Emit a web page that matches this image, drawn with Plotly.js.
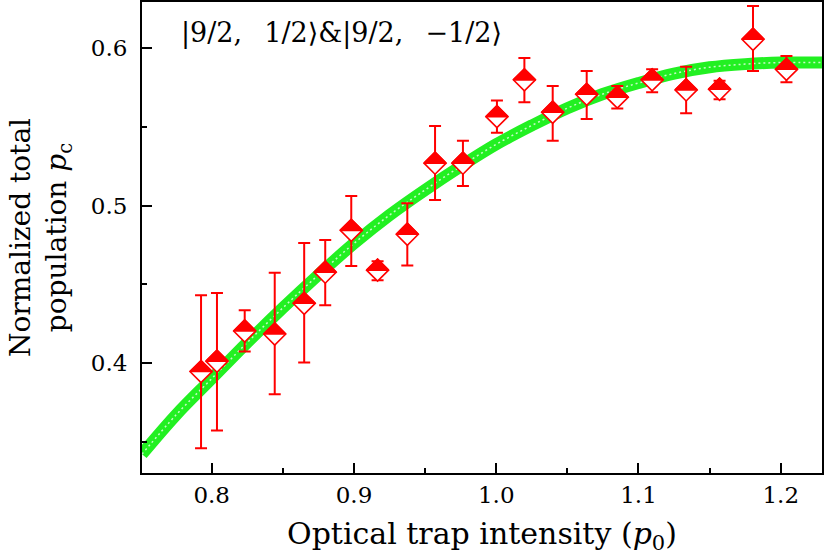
<!DOCTYPE html>
<html>
<head>
<meta charset="utf-8">
<script src="https://cdn.plot.ly/plotly-3.0.1.min.js"></script>
<style>html,body{margin:0;padding:0;background:#fff;}#chart{width:826px;height:555px;}</style>
</head>
<body>
<div id="chart"></div>
<script>
// Measured data points (optical trap intensity vs normalized population)
const intensity = [0.7925, 0.8037, 0.8232, 0.8443, 0.865, 0.8798, 0.8981, 0.9166, 0.9375, 0.957, 0.9766,
                   1.0005, 1.0198, 1.0397, 1.0636, 1.0851, 1.1096, 1.1335, 1.157, 1.1805, 1.204];
const population = [0.3945, 0.4011, 0.4203, 0.4184, 0.4379, 0.4577, 0.4843, 0.4590, 0.4818, 0.527, 0.527,
                    0.5566, 0.580, 0.5594, 0.5708, 0.569, 0.580, 0.5736, 0.574, 0.6058, 0.5867];
const errPlus = [0.0485, 0.0434, 0.0132, 0.039, 0.0384, 0.0205, 0.0219, 0.0056, 0.0197, 0.0237, 0.0143,
                 0.0102, 0.0139, 0.0167, 0.0148, 0.0071, 0.0067, 0.0148, 0.0055, 0.0212, 0.0085];
const errMinus = [0.0488, 0.0441, 0.0131, 0.0384, 0.0377, 0.021, 0.0226, 0.0065, 0.0198, 0.0234, 0.0145,
                  0.0102, 0.0143, 0.0181, 0.0157, 0.0073, 0.0079, 0.0149, 0.0064, 0.0202, 0.0083];

// Fitted curve
const fitX = [0.751, 0.775, 0.80, 0.825, 0.85, 0.875, 0.90, 0.925, 0.95, 0.975, 1.00, 1.025, 1.05, 1.075,
              1.10, 1.125, 1.15, 1.175, 1.20, 1.229];
const fitY = [0.342, 0.367, 0.390, 0.413, 0.435, 0.456, 0.476, 0.494, 0.510, 0.525, 0.539, 0.551, 0.562, 0.571,
              0.578, 0.584, 0.588, 0.590, 0.591, 0.591];

const xTickVals = [0.8, 0.9, 1.0, 1.1, 1.2];
const xTickText = ['0.8', '0.9', '1.0', '1.1', '1.2'];
const yTickVals = [0.4, 0.5, 0.6];
const yTickText = ['0.4', '0.5', '0.6'];

const RED = '#ff0000';
const GREEN = '#22f022';
const FONT = 'DejaVu Serif, Liberation Serif, serif';

const traces = [
  { x: fitX, y: fitY, type: 'scatter', mode: 'lines', line: { color: GREEN, width: 12, shape: 'spline' },
    hoverinfo: 'skip', showlegend: false },
  { x: fitX, y: fitY, type: 'scatter', mode: 'lines',
    line: { color: 'rgba(255,255,255,0.75)', width: 1.5, shape: 'spline', dash: '2px,3px' },
    hoverinfo: 'skip', showlegend: false },
  { x: intensity, y: population, type: 'scatter', mode: 'markers', showlegend: false,
    marker: { symbol: 'diamond', size: 17, color: '#ffffff', line: { color: RED, width: 1.6 } },
    error_y: { type: 'data', symmetric: false, array: errPlus, arrayminus: errMinus,
               color: RED, thickness: 2, width: 6 } },
  { x: intensity, y: population, type: 'scatter', mode: 'markers', showlegend: false,
    marker: { symbol: 'diamond', size: 17, color: RED, line: { color: RED, width: 1.6 } } }
];

const layout = {
  width: 826, height: 555,
  margin: { l: 142, r: 4, t: 2, b: 82 },
  paper_bgcolor: '#ffffff', plot_bgcolor: '#ffffff',
  font: { family: FONT, color: '#000' },
  showlegend: false,
  xaxis: {
    range: [0.751, 1.229], tickmode: 'array', tickvals: xTickVals, ticktext: xTickText,
    ticks: 'inside', ticklen: 10, tickwidth: 2, tickcolor: '#000',
    minor: { dtick: 0.05, ticks: 'inside', ticklen: 5, tickwidth: 2, tickcolor: '#000', showgrid: false },
    showline: true, linecolor: '#000', linewidth: 2, mirror: true,
    showgrid: false, zeroline: false,
    tickfont: { family: FONT, size: 23 },
    title: { text: 'Optical trap intensity (<i>p</i><sub>0</sub>)', font: { family: FONT, size: 30 }, standoff: 18 }
  },
  yaxis: {
    range: [0.33, 0.6295], tickmode: 'array', tickvals: yTickVals, ticktext: yTickText,
    ticks: 'inside', ticklen: 10, tickwidth: 2, tickcolor: '#000',
    minor: { dtick: 0.05, ticks: 'inside', ticklen: 5, tickwidth: 2, tickcolor: '#000', showgrid: false },
    showline: true, linecolor: '#000', linewidth: 2, mirror: true,
    showgrid: false, zeroline: false,
    tickfont: { family: FONT, size: 23 },
    ticklabelstandoff: 8,
    title: { text: 'Normalized total<br>population <i>p</i><sub>c</sub>', font: { family: FONT, size: 28 }, standoff: 16 }
  },
  annotations: [
    { xref: 'paper', yref: 'paper', x: 0.055, y: 0.935, xanchor: 'left', yanchor: 'middle', showarrow: false,
      text: '|9/2,\u2002 1/2\u27E9&|9/2,\u2002 \u22121/2\u27E9', font: { family: FONT, size: 27, color: '#000' } }
  ]
};

Plotly.newPlot('chart', traces, layout, { displayModeBar: false, staticPlot: true }).then(function (gd) {
  // turn the filled diamonds of the top trace into upper half-diamonds
  const layers = gd.querySelectorAll('.scatterlayer .trace');
  const top = layers[layers.length - 1];
  top.querySelectorAll('path.point').forEach(function (p) {
    const r = 17 / 2 * 1.3;
    p.setAttribute('d', 'M' + r + ',0H-' + r + 'L0,-' + r + 'Z');
  });
});
</script>
</body>
</html>
